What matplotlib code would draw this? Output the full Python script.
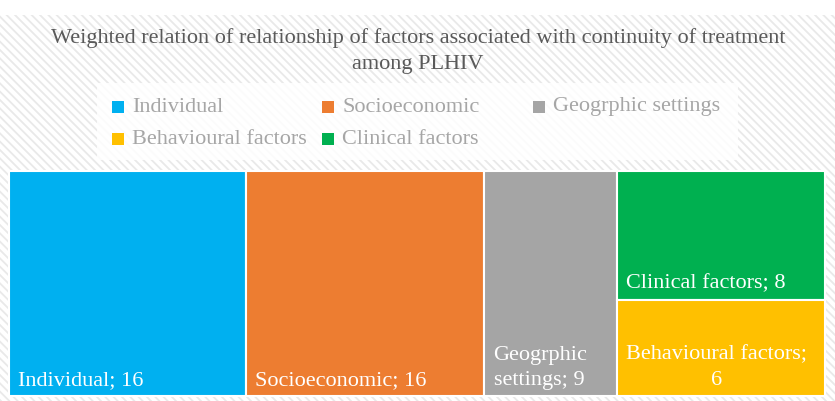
import matplotlib
matplotlib.use("Agg")
import matplotlib.pyplot as plt
from matplotlib.patches import Rectangle

# data
names = ['Individual', 'Socioeconomic', 'Geogrphic settings', 'Behavioural factors', 'Clinical factors']
values = [16, 16, 9, 6, 8]
colors = ['#00B0F0', '#ED7D31', '#A5A5A5', '#FFC000', '#00B050']
# labels as wrapped in the original
box_labels = ['Individual; 16', 'Socioeconomic; 16', 'Geogrphic\nsettings; 9',
              'Behavioural factors;\n6', 'Clinical factors; 8']
# treemap columns (index into names), stacked top to bottom
columns = [[0], [1], [2], [4, 3]]
title = 'Weighted relation of relationship of factors associated with continuity of treatment\namong PLHIV'

plt.rcParams['font.family'] = ['Liberation Serif', 'DejaVu Serif']
plt.rcParams['hatch.color'] = '#e9e9e9'
plt.rcParams['hatch.linewidth'] = 1.3

W, H = 835, 401
fig = plt.figure(figsize=(W / 100, H / 100), dpi=100)
ax = fig.add_axes([0, 0, 1, 1])
ax.set_xlim(0, W)
ax.set_ylim(H, 0)
ax.axis('off')

# striped chart background
ax.add_patch(Rectangle((0, 15), W, H - 15, facecolor='white', edgecolor='#e9e9e9',
                       hatch='\\\\\\\\', linewidth=0, zorder=0))

ax.text(418, 51, title, ha='center', va='center', fontsize=16, color='#595959',
        linespacing=1.45, zorder=3)

# legend box
ax.add_patch(Rectangle((97, 83), 641, 77, facecolor='white', edgecolor='none', alpha=0.85, zorder=1))
leg_pos = [(112, 107), (322, 107), (533, 107), (112, 139), (322, 139)]
for i, (lx, ly) in enumerate(leg_pos):
    ax.add_patch(Rectangle((lx, ly - 6), 12, 12, facecolor=colors[i], edgecolor='none', zorder=3))
    ax.text(lx + 20, ly, names[i], ha='left', va='center', fontsize=16, color='#a6a6a6', zorder=3)

# treemap
x0, x1, y0, y1 = 9, 825, 171, 396
total = sum(values)
x = x0
for col in columns:
    cw = sum(values[i] for i in col) / total * (x1 - x0)
    y = y0
    csum = sum(values[i] for i in col)
    for i in col:
        rh = values[i] / csum * (y1 - y0)
        ax.add_patch(Rectangle((x, y), cw, rh, facecolor=colors[i], edgecolor='white',
                               linewidth=1.5, zorder=2))
        ax.text(x + 9, y + rh - 6, box_labels[i], ha='left', va='bottom', fontsize=16,
                color='white', multialignment='center', linespacing=1.45, zorder=3)
        y += rh
    x += cw

fig.savefig('out.png', dpi=100)
